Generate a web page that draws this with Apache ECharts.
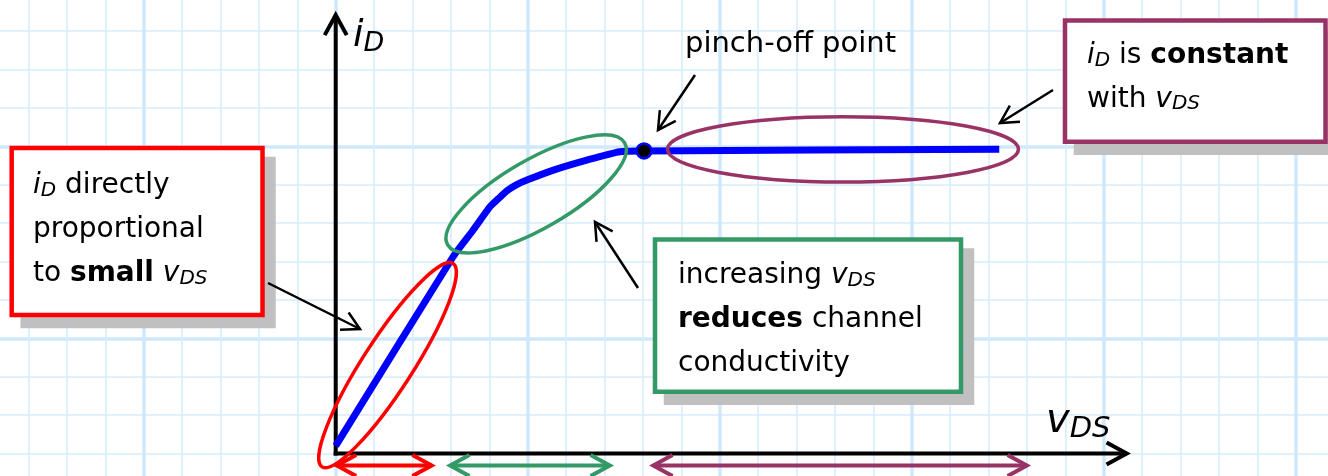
<!DOCTYPE html>
<html>
<head>
<meta charset="utf-8">
<script src="https://cdn.jsdelivr.net/npm/echarts@6/dist/echarts.min.js"></script>
<style>
  html, body { margin: 0; padding: 0; background: #fff; }
  #chart { width: 1328px; height: 476px; }
</style>
</head>
<body>
<div id="chart"></div>
<script>
  // drain current curve, in grid squares (v_DS across, i_D up)
  const vDS = [0, 3.06, 3.58, 4.02, 4.23, 4.46, 4.69, 4.98, 5.67, 6.54, 7.40, 8.03, 17.28];
  const iD  = [0.2, 5.13, 5.82, 6.43, 6.63, 6.84, 6.99, 7.12, 7.38, 7.64, 7.86, 7.88, 7.92];
  // pinch-off point
  const pinchOff = [8.03, 7.88];
  // the three regions along v_DS
  const regionName  = ['small vDS', 'transition', 'constant'];
  const regionStart = [0.03, 2.98, 8.27];
  const regionEnd   = [2.50, 7.14, 18.0];
  // where the axis arrows stop
  const xAxisEnd = 20.6;
  const yAxisEnd = 11.42;

  const FONT = '"DejaVu Sans", sans-serif';
  const RED = '#ff0000', GREEN = '#339966', PURPLE = '#993366', BLUE = '#0000ff';
  const regionColor = [RED, GREEN, PURPLE];

  // ellipses drawn round each region (grid squares, angle in degrees)
  const rings = [
    { cx: 1.35, cy: 2.30, rx: 3.15, ry: 0.65, rot: 57.2 },
    { cx: 5.22, cy: 6.76, rx: 2.66, ry: 0.89, rot: 30 },
    { cx: 13.21, cy: 7.92, rx: 4.57, ry: 0.85, rot: 0 }
  ];

  // open arrow head (two strokes) at tip, pointing away from "from"
  function head(tip, from, len, ang) {
    const a = Math.atan2(from[1] - tip[1], from[0] - tip[0]);
    return [
      [tip[0] + len * Math.cos(a + ang), tip[1] + len * Math.sin(a + ang)],
      [tip[0], tip[1]],
      [tip[0] + len * Math.cos(a - ang), tip[1] + len * Math.sin(a - ang)]
    ];
  }

  function arrow(from, to, color, width, len, ang, z) {
    return [
      { type: 'line', shape: { x1: from[0], y1: from[1], x2: to[0], y2: to[1] },
        style: { stroke: color, lineWidth: width }, z: z },
      { type: 'polyline', shape: { points: head(to, from, len, ang) },
        style: { fill: 'none', stroke: color, lineWidth: width, lineJoin: 'miter' }, z: z }
    ];
  }

  function box(x, y, w, h, color) {
    return [
      { type: 'rect', shape: { x: x - 2.25 + 11, y: y - 2.25 + 11, width: w + 4.5, height: h + 4.5 },
        style: { fill: '#c0c0c0' }, z: 10 },
      { type: 'rect', shape: { x: x, y: y, width: w, height: h },
        style: { fill: '#fff', stroke: color, lineWidth: 4.5 }, z: 11 }
    ];
  }

  function rich(size, subSize, shift, lh) {
    return {
      i: { fontFamily: FONT, fontSize: size, fontStyle: 'italic', lineHeight: lh, fill: '#000' },
      s: { fontFamily: FONT, fontSize: subSize, fontStyle: 'italic', padding: [shift, 0, 0, 0], lineHeight: lh, fill: '#000' },
      b: { fontFamily: FONT, fontSize: size, fontWeight: 'bold', lineHeight: lh, fill: '#000' }
    };
  }

  function label(x, y, text, size, subSize, shift, lh, va) {
    return {
      type: 'text', x: x, y: y, z: 12,
      style: {
        text: text, fontFamily: FONT, fontSize: size, lineHeight: lh, fill: '#000',
        align: 'left', verticalAlign: va || 'top',
        rich: rich(size, subSize, shift, lh)
      }
    };
  }

  let graphics = [];
  graphics = graphics.concat(box(11.7, 148, 250.8, 167, RED));
  graphics = graphics.concat(box(655, 239.5, 306, 152.2, GREEN));
  graphics = graphics.concat(box(1065, 20.5, 260.5, 121.3, PURPLE));
  graphics.push(label(33, 164, '{i|i}{s|D} directly\nproportional\nto {b|small} {i|v}{s|DS}', 28, 20, 10, 44));
  graphics.push(label(678, 254, 'increasing {i|v}{s|DS}\n{b|reduces} channel\nconductivity', 28, 20, 10, 44));
  graphics.push(label(1087, 34, '{i|i}{s|D} is {b|constant}\nwith {i|v}{s|DS}', 28, 20, 10, 43.5));
  graphics.push(label(685, 44.5, 'pinch-off point', 29, 20, 0, 40, 'middle'));
  // axis names
  graphics.push(label(353, 36, '{i|i}{s|D}', 38, 27, 16, 40, 'middle'));
  graphics.push(label(1046, 422, '{i|v}{s|DS}', 40, 29, 14, 44, 'middle'));
  // callout arrows
  graphics = graphics.concat(arrow([695, 75], [658, 130], '#000', 2.5, 20, 0.5, 12));
  graphics = graphics.concat(arrow([1053, 90], [1000, 123], '#000', 2.5, 20, 0.5, 12));
  graphics = graphics.concat(arrow([268, 283], [360, 329], '#000', 2.5, 20, 0.5, 12));
  graphics = graphics.concat(arrow([638, 288], [595, 222], '#000', 2.5, 20, 0.5, 12));

  const chart = echarts.init(document.getElementById('chart'));
  chart.setOption({
    animation: false,
    backgroundColor: '#fff',
    grid: { left: -48.3, top: -45.7, width: 1536, height: 576, containLabel: false, outerBoundsMode: 'none' },
    xAxis: {
      type: 'value', min: -10, max: 30, interval: 5,
      axisLine: { show: false }, axisTick: { show: false }, axisLabel: { show: false },
      splitLine: { show: true, lineStyle: { color: '#cfe8fb', width: 3.5 } },
      minorTick: { show: false, splitNumber: 5 },
      minorSplitLine: { show: true, lineStyle: { color: '#d6edfc', width: 1.6 } }
    },
    yAxis: {
      type: 'value', min: -2, max: 13, interval: 5,
      axisLine: { show: false }, axisTick: { show: false }, axisLabel: { show: false },
      splitLine: { show: true, lineStyle: { color: '#cfe8fb', width: 3.5 } },
      minorTick: { show: false, splitNumber: 5 },
      minorSplitLine: { show: true, lineStyle: { color: '#d6edfc', width: 1.6 } }
    },
    graphic: graphics,
    series: [
      {
        // axes with open arrow heads
        type: 'custom', clip: false, z: 3,
        data: [[xAxisEnd, 0], [0, yAxisEnd]],
        renderItem: function (params, api) {
          const o = api.coord([0, 0]);
          const t = api.coord([api.value(0), api.value(1)]);
          const start = params.dataIndex === 0 ? [o[0] - 2, o[1]] : [o[0], o[1] + 2];
          return { type: 'group', children: arrow(start, t, '#000', 4, 23, 0.5, 3) };
        }
      },
      {
        name: 'iD', type: 'line', z: 4,
        data: vDS.map(function (v, i) { return [v, iD[i]]; }),
        smooth: 0.2, showSymbol: false,
        lineStyle: { color: BLUE, width: 7 }
      },
      {
        // rings round the regions
        type: 'custom', clip: false, z: 5,
        data: regionName.map(function (n, i) { return [regionStart[i], regionEnd[i]]; }),
        renderItem: function (params, api) {
          const r = rings[params.dataIndex];
          const c = api.coord([r.cx, r.cy]);
          const s = api.size([r.rx, r.ry]);
          return {
            type: 'ellipse', x: c[0], y: c[1], rotation: r.rot * Math.PI / 180,
            shape: { cx: 0, cy: 0, rx: s[0], ry: s[1] },
            style: { fill: 'none', stroke: regionColor[params.dataIndex], lineWidth: 3.5 }
          };
        }
      },
      {
        // double arrows under the v_DS axis
        type: 'custom', clip: false, z: 5,
        data: regionName.map(function (n, i) { return [regionStart[i], regionEnd[i]]; }),
        renderItem: function (params, api) {
          const a = api.coord([api.value(0), 0]);
          const b = api.coord([api.value(1), 0]);
          const y = a[1] + 12;
          const c = regionColor[params.dataIndex];
          return {
            type: 'group',
            children: [
              { type: 'line', shape: { x1: a[0], y1: y, x2: b[0], y2: y }, style: { stroke: c, lineWidth: 4 } },
              { type: 'polyline', shape: { points: head([a[0], y], [b[0], y], 22, 0.5) },
                style: { fill: 'none', stroke: c, lineWidth: 4 } },
              { type: 'polyline', shape: { points: head([b[0], y], [a[0], y], 22, 0.5) },
                style: { fill: 'none', stroke: c, lineWidth: 4 } }
            ]
          };
        }
      },
      {
        name: 'pinch-off', type: 'scatter', z: 6,
        data: [pinchOff], symbolSize: 15,
        itemStyle: { color: '#000', borderColor: BLUE, borderWidth: 2.5, opacity: 1 }
      }
    ]
  });
</script>
</body>
</html>
